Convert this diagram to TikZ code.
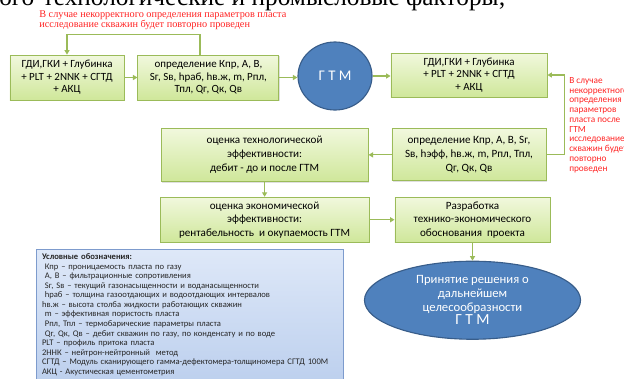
\documentclass[tikz,border=0pt]{standalone}
\usepackage{fontspec}
\setmainfont{Carlito}
\newfontfamily\notefont{Liberation Serif}
\usetikzlibrary{shapes.geometric, arrows.meta, positioning, shadows}

\definecolor{boxline}{HTML}{9BBB59}
\definecolor{boxtop}{HTML}{F1F8DD}
\definecolor{boxbottom}{HTML}{CFE79A}
\definecolor{gtmfill}{HTML}{4F81BD}
\definecolor{gtmline}{HTML}{385D8A}
\definecolor{notered}{HTML}{FF2424}
\definecolor{legendtop}{HTML}{DEE8F8}
\definecolor{legendbottom}{HTML}{BDD0EE}
\definecolor{legendline}{HTML}{7D9BCD}

\begin{document}
\begin{tikzpicture}[
    x=0.025cm, y=-0.025cm,
    block/.style={rectangle, draw=boxline, line width=0.6pt, top color=boxtop, bottom color=boxbottom, align=center, inner sep=1pt, font=\fontsize{7.8}{8.9}\selectfont, drop shadow={shadow xshift=0.8pt, shadow yshift=-0.8pt, opacity=0.25}},
    wideblock/.style={block, font=\fontsize{7.9}{10}\selectfont},
    blob/.style={ellipse, draw=gtmline, line width=0.8pt, fill=gtmfill, text=white, align=center, inner sep=0pt},
    arrow/.style={draw=boxline, line width=0.8pt, -{Triangle[length=3.2pt, width=3.6pt]}},
    note/.style={text=notered, align=left, inner sep=0pt},
    legend/.style={rectangle, draw=legendline, line width=0.6pt, top color=legendtop, bottom color=legendbottom, align=left, text=black!85, inner xsep=0.14cm, inner ysep=3pt, font=\fontsize{6.1}{6.8}\selectfont},
]
    \useasboundingbox (0,0) rectangle (624,378);
    \clip (0,0) rectangle (624,378);

    % cut-off line of the page above
    \node[anchor=base east, inner sep=0pt, font=\notefont\fontsize{18}{18}\selectfont] (heading) at (506,5) {геолого-технологические и промысловые факторы;};

    % top row
    \node[block, minimum width=2.85cm, minimum height=1.125cm] (survey) at (67,77.5) {ГДИ,ГКИ + Глубинка\\+ PLT + 2NNK + СГТД\\+ АКЦ};
    \node[block, minimum width=3.525cm, minimum height=1.125cm, right=0.325cm of survey] (params) {определение Кпр, А, В,\\Sг, Sв, hраб, hв.ж, m, Рпл,\\Тпл, Qг, Qк, Qв};
    \node[blob, minimum width=1.85cm, minimum height=1.7cm, font=\fontsize{10.5}{12}\selectfont] (gtm) at (335,76) {Г Т М};
    \node[block, minimum width=3.9cm, minimum height=1.1cm] (resurvey) at (469,75) {ГДИ,ГКИ + Глубинка\\+ PLT + 2NNK + СГТД\\+ АКЦ};

    % middle rows
    \node[wideblock, minimum width=3.85cm, minimum height=1.3cm, below=0.775cm of resurvey] (recheck) {определение Кпр, А, В, Sг,\\Sв, hэфф, hв.ж, m, Рпл, Тпл,\\Qг, Qк, Qв};
    \node[wideblock, minimum width=5.175cm, minimum height=1.325cm, left=0.575cm of recheck] (techeff) {оценка технологической\\эффективности:\\дебит - до и после ГТМ};
    \node[block, minimum width=5.225cm, minimum height=1.125cm, below=0.375cm of techeff, font=\fontsize{7.9}{9.6}\selectfont] (econeff) {оценка экономической\\эффективности:\\рентабельность\ \ и окупаемость ГТМ};
    \node[block, minimum width=3.875cm, minimum height=1.125cm, right=0.625cm of econeff, font=\fontsize{7.9}{9.6}\selectfont] (project) {Разработка\\технико-экономического\\обоснования\ \ проекта};
    \node[blob, minimum width=5.4cm, minimum height=1.95cm, below=0.45cm of project, font=\fontsize{9}{9.8}\selectfont] (decision) {Принятие решения о\\дальнейшем\\целесообразности\\{\fontsize{11}{11}\selectfont Г Т М}};

    % notes
    \node[note, anchor=north west, font=\notefont\fontsize{7.3}{7.3}\selectfont] (topnote) at (39,10) {В случае некорректного определения параметров пласта\\исследование скважин будет повторно проведен};
    \node[note, anchor=north west, font=\fontsize{6.6}{6.95}\selectfont] (sidenote) at (569,77) {В случае\\некорректного\\определения\\параметров\\пласта после\\ГТМ\\исследование\\скважин будет\\повторно\\проведен};

    \node[legend, anchor=north west, text width=7.4cm] (legend) at (36,249) {\textbf{Условные обозначения:}\\
    \hspace*{2pt}Кпр – проницаемость пласта по газу\\
    \hspace*{2pt}А, В – фильтрационные сопротивления\\
    \hspace*{2pt}Sг, Sв – текущий газонасыщенности и воданасыщенности\\
    \hspace*{2pt}hраб – толщина газоотдающих и водоотдающих интервалов\\
    hв.ж – высота столба жидкости работающих скважин\\
    \hspace*{2pt}m – эффективная пористость пласта\\
    \hspace*{2pt}Рпл, Тпл – термобарические параметры пласта\\
    \hspace*{2pt}Qг, Qк, Qв – дебит скважин по газу, по конденсату и по воде\\
    PLT – профиль притока пласта\\
    2ННК – нейтрон-нейтронный\ \ метод\\
    СГТД – Модуль сканирующего гамма-дефектомера-толщиномера СГТД 100М\\
    АКЦ - Акустическая цементометрия};

    \draw[arrow] (survey) -- (params);
    \draw[arrow] (params.east) -- (params.east -| gtm.west);
    \draw[arrow] (gtm.east) -- (gtm.east -| resurvey.west);
    \draw[arrow] ([xshift=-0.21cm]params.north) -- ++(0,-20) -| (survey.north);
    \draw[arrow] (recheck.east) -- ++(18,0) |- (resurvey.east);
    \draw[arrow] (recheck) -- (techeff);
    \draw[arrow] (techeff.south) -- (techeff.south |- econeff.north);
    \draw[arrow] (econeff) -- (project);
    \draw[arrow] (project) -- (decision);
\end{tikzpicture}
\end{document}
